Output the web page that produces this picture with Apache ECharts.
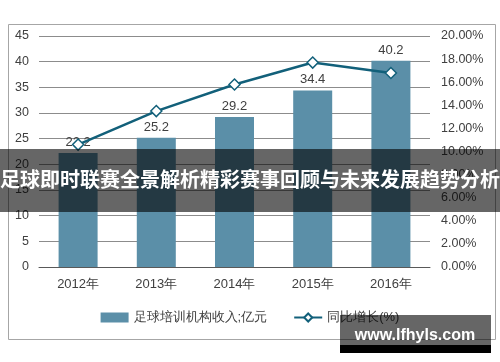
<!DOCTYPE html>
<html><head><meta charset="utf-8">
<script src="https://cdn.jsdelivr.net/npm/echarts@6/dist/echarts.min.js"></script>
<style>html,body{margin:0;padding:0;background:#fff}#c{width:500px;height:362px}</style>
</head><body><div id="c"></div>
<script>
const categories = ['2012年','2013年','2014年','2015年','2016年'];
const revenue = [22.2, 25.2, 29.2, 34.4, 40.2];
const growth = [10.6, 13.5, 15.8, 17.7, 16.8];
const revenueName = '足球培训机构收入;亿元';
const growthName = '同比增长(%)';
const bannerText = '足球即时联赛全景解析精彩赛事回顾与未来发展趋势分析';
const watermarkText = 'www.lfhyls.com';

const chart = echarts.init(document.getElementById('c'));
const font = '"Liberation Sans", Arial, sans-serif';
chart.setOption({
  animation: false,
  textStyle: {fontFamily: font},
  grid: {left: 39, right: 70, top: 36, bottom: 95},
  legend: {
    bottom: 33, left: 'center', itemGap: 26, itemWidth: 28, itemHeight: 10,
    textStyle: {color: '#404040', fontSize: 13, fontFamily: font},
    data: [{name: revenueName, icon: 'rect'}, {name: growthName}]
  },
  xAxis: {
    type: 'category', data: categories,
    axisLine: {lineStyle: {color: '#595959', width: 1}},
    axisTick: {show: false},
    axisLabel: {color: '#404040', fontSize: 13, margin: 11}
  },
  yAxis: [{
    type: 'value', min: 0, max: 45, interval: 5,
    axisLine: {show: false}, axisTick: {show: false},
    splitLine: {lineStyle: {color: '#8c8c8c', width: 1}},
    axisLabel: {color: '#404040', fontSize: 12.5, margin: 10}
  }, {
    type: 'value', min: 0, max: 20, interval: 2,
    axisLine: {show: false}, axisTick: {show: false},
    splitLine: {show: false},
    axisLabel: {color: '#404040', fontSize: 12.5, margin: 11, formatter: v => v.toFixed(2) + '%'}
  }],
  series: [{
    name: revenueName, type: 'bar', data: revenue, barWidth: 39,
    itemStyle: {color: '#5b8fa8'},
    label: {show: true, position: 'top', color: '#404040', fontSize: 13, distance: 4}
  }, {
    name: growthName, type: 'line', yAxisIndex: 1, data: growth,
    symbol: 'diamond', symbolSize: 11,
    lineStyle: {color: '#12607a', width: 2.5},
    itemStyle: {color: '#ffffff', borderColor: '#12607a', borderWidth: 1.5}
  }],
  graphic: [
    {type: 'rect', left: 6, top: 22, shape: {x: 0, y: 0, width: 487, height: 315},
     style: {fill: 'none', stroke: '#a6a6a6', lineWidth: 1}, z: 0, silent: true},
    {type: 'rect', left: 0, top: 149, shape: {x: 0, y: 0, width: 500, height: 63},
     style: {fill: 'rgba(0,0,0,0.6)'}, z: 100},
    {type: 'text', left: 'center', top: 169,
     style: {text: bannerText, fill: '#ffffff', font: 'bold 20px "Noto Sans CJK SC", sans-serif'}, z: 101},
    {type: 'rect', left: 340, top: 315, shape: {x: 0, y: 0, width: 151, height: 30},
     style: {fill: 'rgba(0,0,0,0.6)'}, z: 100},
    {type: 'rect', left: 340, top: 345, shape: {x: 0, y: 0, width: 151, height: 8},
     style: {fill: '#000000'}, z: 100},
    {type: 'text', x: 415, y: 336,
     style: {text: watermarkText, fill: '#ffffff', align: 'center', verticalAlign: 'middle',
             font: 'bold 16px "Liberation Sans", Arial, sans-serif'}, z: 101}
  ]
});
</script></body></html>
